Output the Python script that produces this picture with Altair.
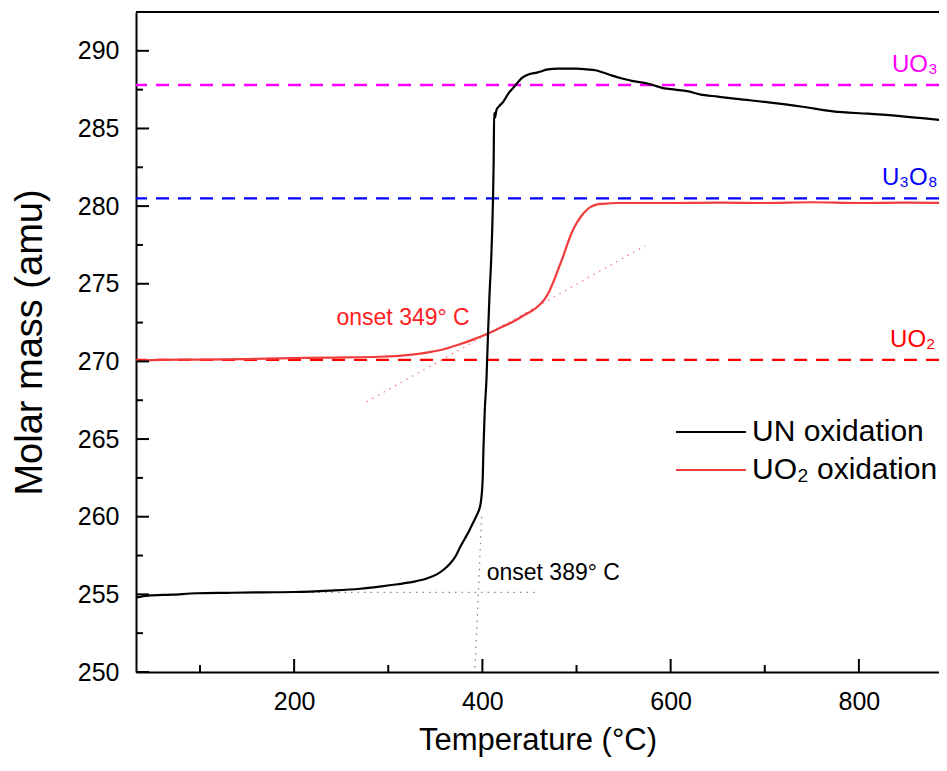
import altair as alt
import pandas as pd

# ---------------- data ----------------
# UN oxidation (black curve)
un_T = [32, 45, 70, 96.5, 130, 167, 200, 238, 270, 291, 310, 326, 340, 352, 360, 366,
        372, 376, 381, 386, 390, 394, 398, 400.3, 401.2, 402.5, 404.3, 406, 407.5, 409.5,
        411, 412, 412.5, 413.4, 415, 418, 421.9, 427, 432.5, 438,
        443.1, 450, 458, 469.7, 480, 490, 500, 511.1, 520, 528.1, 538, 549.4, 560, 570.6,
        581, 591.9, 605, 617.4, 631, 650, 670, 702, 740, 772.5, 810, 843.7, 870, 892]
un_M = [254.8, 254.92, 254.98, 255.07, 255.1, 255.13, 255.15, 255.24, 255.36, 255.5, 255.65,
        255.8, 256.0, 256.3, 256.65, 257.0, 257.5, 258.0, 258.55, 259.1, 259.6, 260.1, 260.8,
        262.4, 264.5, 266.8, 268.8, 271.8, 274.2, 276.8, 279.8, 283.0,
        286.0, 285.7, 286.2, 286.45, 286.7, 287.2, 287.6, 288.0, 288.3, 288.5, 288.6, 288.8,
        288.85, 288.85, 288.85, 288.8, 288.75, 288.6, 288.4, 288.2, 288.05, 287.95, 287.8,
        287.6, 287.5, 287.4, 287.2, 287.05, 286.9, 286.7, 286.4, 286.1, 285.95, 285.8, 285.65,
        285.5]

# UO2 oxidation (red curve)
uo2_T = [32, 60, 100, 150, 185, 240, 291, 320, 344, 360, 376, 392, 406, 420, 432.5, 445,
         453.8, 460, 466, 471, 476, 481, 486, 490, 495, 500, 505, 510, 515, 521, 528, 545, 600,
         650, 700, 750, 800, 850, 892]
uo2_M = [270.05, 270.1, 270.12, 270.15, 270.2, 270.25, 270.3, 270.4, 270.6, 270.8, 271.1,
         271.45, 271.8, 272.2, 272.55, 273.0, 273.3, 273.6, 274.0, 274.5, 275.2, 276.0, 276.8,
         277.5, 278.3, 278.9, 279.35, 279.7, 279.95, 280.1, 280.15, 280.2, 280.2,
         280.22, 280.2, 280.25, 280.2, 280.22, 280.2]

series_names = ["UN oxidation", "UO\u2082 oxidation"]

# reference oxide levels
ref_labels = ["UO\u2083", "U\u2083O\u2088", "UO\u2082"]
ref_mass = [287.8, 280.5, 270.1]
ref_label_T = [835.2, 824.5, 833.1]

# onset construction lines
tan349_T = [277, 573]
tan349_M = [267.4, 277.45]
base389_T = [150, 458]
base389_M = [255.13, 255.13]
steep389_T = [399.2, 392.1]
steep389_M = [260.0, 250.1]

onset_texts = ["onset 349\u00b0 C", "onset 389\u00b0 C"]
onset_T = [245, 404.6]
onset_M = [272.36, 255.93]

# axis ticks
x_major = [200, 400, 600, 800]
x_minor = [100, 300, 500, 700]
y_major = [250, 255, 260, 265, 270, 275, 280, 285, 290]
y_minor = [252.5, 257.5, 262.5, 267.5, 272.5, 277.5, 282.5, 287.5]

# ---------------- styling ----------------
FONT = "Liberation Sans"
W, H = 803, 660
RED = "#f03c3c"
REF_COLORS = ["#ff00ff", "#0000ff", "#ff0000"]

xs = alt.Scale(domain=[32, 885.1], nice=False, zero=False)
ys = alt.Scale(domain=[250, 292.5], nice=False, zero=False)

xaxis = alt.Axis(values=x_major, ticks=False, grid=False, domainColor="black", domainWidth=2,
                 labelFont=FONT, labelFontSize=25, labelColor="black", labelPadding=17,
                 title="Temperature (\u00b0C)", titleFont=FONT, titleFontSize=31,
                 titleFontWeight="normal", titleColor="black", titlePadding=11)
yaxis = alt.Axis(values=y_major, ticks=False, grid=False, domainColor="black", domainWidth=2,
                 labelFont=FONT, labelFontSize=25, labelColor="black", labelPadding=17,
                 title="Molar mass (amu)", titleFont=FONT, titleFontSize=38,
                 titleFontWeight="normal", titleColor="black", titlePadding=28)

color = alt.Color("series:N",
                  scale=alt.Scale(domain=series_names, range=["#000000", RED]),
                  legend=alt.Legend(title=None, orient="none", legendX=539, legendY=401,
                                    symbolType="stroke", symbolSize=4900, symbolStrokeWidth=2,
                                    labelFont=FONT, labelFontSize=30, labelColor="black",
                                    labelLimit=600, labelOffset=5, rowPadding=0, clipHeight=38,
                                    padding=0))

un_df = pd.DataFrame({"T": un_T, "M": un_M, "series": series_names[0],
                      "i": range(len(un_T))})
uo2_df = pd.DataFrame({"T": uo2_T, "M": uo2_M, "series": series_names[1],
                       "i": range(len(uo2_T))})

layers = []

# reference dashed levels and labels
for lab, m, lt, col in zip(ref_labels, ref_mass, ref_label_T, REF_COLORS):
    d = pd.DataFrame({"M": [m], "T": [lt], "label": [lab]})
    layers.append(alt.Chart(d).mark_rule(color=col, strokeWidth=2.4, strokeDash=[13, 9])
                  .encode(y=alt.Y("M:Q", scale=ys, axis=yaxis)))
    layers.append(alt.Chart(d).mark_text(color=col, font=FONT, fontSize=24, align="left",
                                         baseline="alphabetic", dy=-13)
                  .encode(x=alt.X("T:Q", scale=xs, axis=xaxis),
                          y=alt.Y("M:Q", scale=ys), text="label:N"))

# tangent / onset construction lines
tan_df = pd.DataFrame({"T": tan349_T, "M": tan349_M})
layers.append(alt.Chart(tan_df).mark_line(color="#f08080", strokeWidth=1.3, strokeDash=[1.5, 5])
              .encode(x=alt.X("T:Q", scale=xs), y=alt.Y("M:Q", scale=ys)))
for tt, mm in [(base389_T, base389_M), (steep389_T, steep389_M)]:
    d = pd.DataFrame({"T": tt, "M": mm, "i": [0, 1]})
    layers.append(alt.Chart(d).mark_line(color="#888888", strokeWidth=1.3, strokeDash=[1.5, 5])
                  .encode(x=alt.X("T:Q", scale=xs), y=alt.Y("M:Q", scale=ys),
                          order="i:Q"))

# curves
layers.append(alt.Chart(uo2_df).mark_line(strokeWidth=2.2, interpolate="monotone", clip=True)
              .encode(x=alt.X("T:Q", scale=xs, axis=xaxis), y=alt.Y("M:Q", scale=ys, axis=yaxis),
                      color=color, order="i:Q"))
layers.append(alt.Chart(un_df).mark_line(strokeWidth=2.2, interpolate="monotone", clip=True)
              .encode(x=alt.X("T:Q", scale=xs), y=alt.Y("M:Q", scale=ys),
                      color=color, order="i:Q"))

# onset annotations
on_df = pd.DataFrame({"T": onset_T, "M": onset_M, "label": onset_texts})
layers.append(alt.Chart(on_df.iloc[[0]]).mark_text(color="#ff2020", font=FONT, fontSize=23,
                                                  align="left", baseline="alphabetic")
              .encode(x=alt.X("T:Q", scale=xs), y=alt.Y("M:Q", scale=ys), text="label:N"))
layers.append(alt.Chart(on_df.iloc[[1]]).mark_text(color="black", font=FONT, fontSize=23,
                                                  align="left", baseline="alphabetic")
              .encode(x=alt.X("T:Q", scale=xs), y=alt.Y("M:Q", scale=ys), text="label:N"))

# inward tick marks
xmaj = pd.DataFrame({"T": x_major})
xmin = pd.DataFrame({"T": x_minor})
ymaj = pd.DataFrame({"M": y_major})
ymin = pd.DataFrame({"M": y_minor})
layers.append(alt.Chart(xmaj).mark_rule(color="black", strokeWidth=2)
              .encode(x=alt.X("T:Q", scale=xs), y=alt.value(H), y2=alt.value(H - 13)))
layers.append(alt.Chart(xmin).mark_rule(color="black", strokeWidth=2)
              .encode(x=alt.X("T:Q", scale=xs), y=alt.value(H), y2=alt.value(H - 7)))
layers.append(alt.Chart(ymaj).mark_rule(color="black", strokeWidth=2)
              .encode(y=alt.Y("M:Q", scale=ys), x=alt.value(0), x2=alt.value(13)))
layers.append(alt.Chart(ymin).mark_rule(color="black", strokeWidth=2)
              .encode(y=alt.Y("M:Q", scale=ys), x=alt.value(0), x2=alt.value(7)))

# top frame line
layers.append(alt.Chart(pd.DataFrame({"a": [0]})).mark_rule(color="black", strokeWidth=2)
              .encode(x=alt.value(0), x2=alt.value(W + 10), y=alt.value(0)))

chart = alt.layer(*layers).properties(
    width=W, height=H,
    autosize=alt.AutoSizeParams(type="none"),
    padding={"left": 128, "top": 4, "right": 0, "bottom": 86},
    background="white",
).configure_view(stroke=None)

chart.save("out.html", embed_options={"renderer": "svg", "actions": False})
